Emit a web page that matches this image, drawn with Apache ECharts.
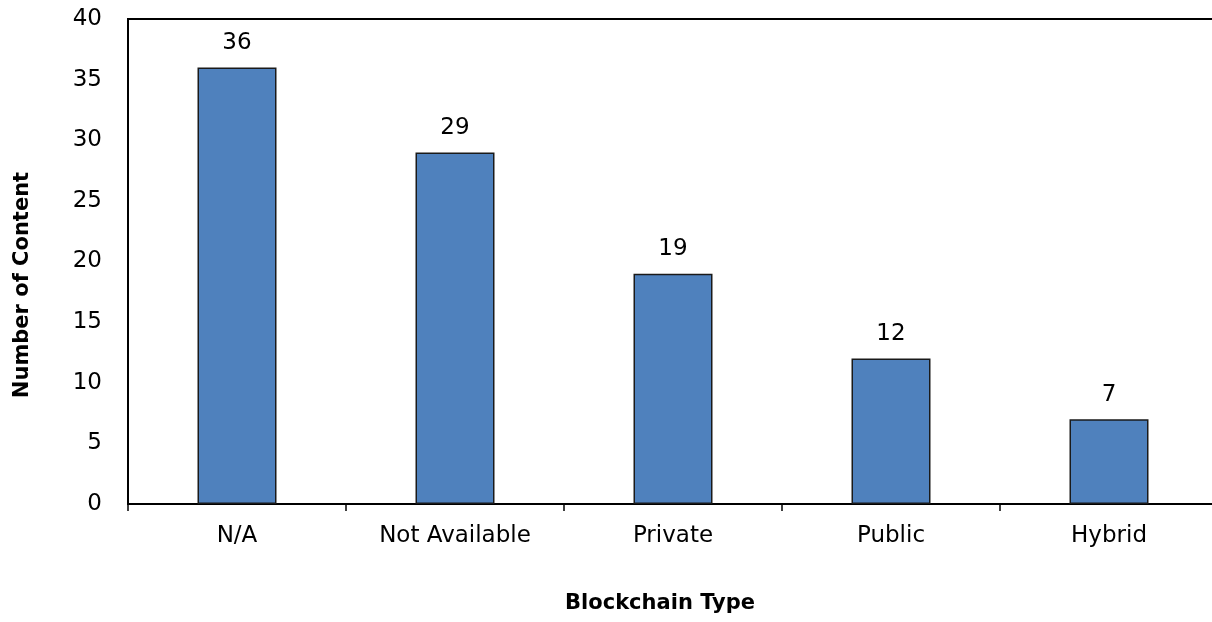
<!DOCTYPE html>
<html>
<head>
<meta charset="utf-8">
<script src="https://cdn.jsdelivr.net/npm/echarts@6/dist/echarts.min.js"></script>
<style>
  html, body { margin: 0; padding: 0; background: #fff; overflow: hidden; }
  /* the plot frame runs slightly past the right edge of the window */
  #chart { width: 1218px; height: 622px; }
</style>
</head>
<body>
<div id="chart"></div>
<script>
// Content counts by blockchain type
const categories = ['N/A', 'Not Available', 'Private', 'Public', 'Hybrid'];
const counts = [36, 29, 19, 12, 7];
const yTicks = { min: 0, max: 40, step: 5 };

const FONT = '"DejaVu Sans", sans-serif';

const chart = echarts.init(document.getElementById('chart'));
chart.setOption({
  animation: false,
  backgroundColor: '#ffffff',
  grid: {
    left: 128, top: 19, right: 0, bottom: 118,
    show: true, borderColor: '#000', borderWidth: 2, backgroundColor: 'transparent'
  },
  graphic: [
    {
      type: 'text', x: 660, y: 604,
      style: { text: 'Blockchain Type', font: 'bold 21px ' + FONT, fill: '#000',
               textAlign: 'center', textVerticalAlign: 'middle' }
    },
    {
      type: 'text', rotation: Math.PI / 2, x: 23, y: 285,
      style: { text: 'Number of Content', font: 'bold 21px ' + FONT, fill: '#000',
               textAlign: 'center', textVerticalAlign: 'middle' }
    }
  ],
  xAxis: {
    type: 'category',
    data: categories,
    axisLine: { lineStyle: { color: '#000', width: 2 } },
    axisTick: { show: true, length: 7, lineStyle: { color: '#000', width: 1.5 } },
    axisLabel: { color: '#000', fontSize: 23, fontFamily: FONT, margin: 21 },
    splitLine: { show: false }
  },
  yAxis: {
    type: 'value',
    min: yTicks.min, max: yTicks.max, interval: yTicks.step,
    axisLine: { show: true, lineStyle: { color: '#000', width: 2 } },
    axisTick: { show: false },
    axisLabel: { color: '#000', fontSize: 23, fontFamily: FONT, margin: 26 },
    splitLine: { show: false }
  },
  series: [{
    type: 'bar',
    data: counts,
    barWidth: 79,
    itemStyle: { color: '#4F81BD', borderColor: '#1a1a1a', borderWidth: 1.5 },
    label: {
      show: true, position: 'top', distance: 13,
      color: '#000', fontSize: 23, fontFamily: FONT
    }
  }]
});
</script>
</body>
</html>
